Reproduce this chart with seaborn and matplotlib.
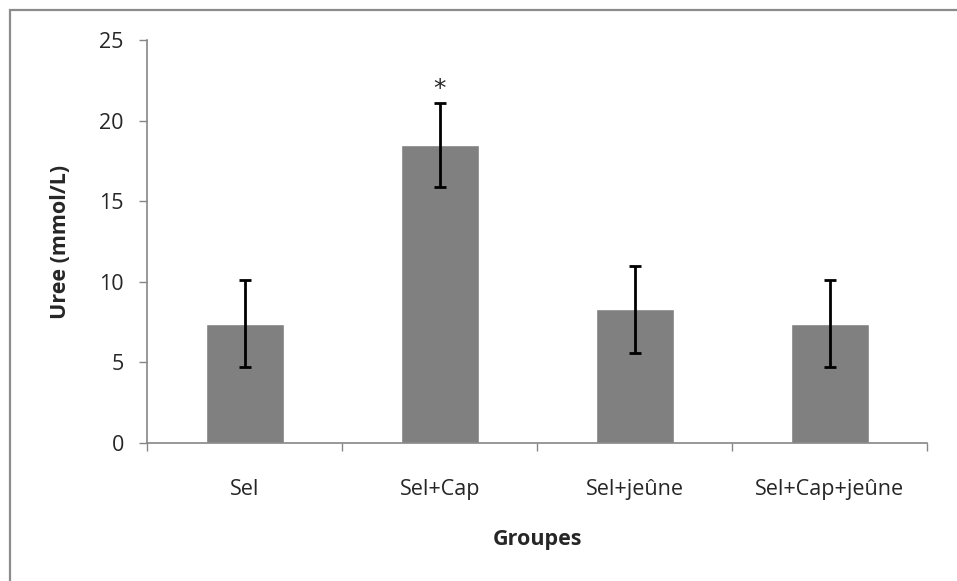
import seaborn as sns
import pandas as pd
import matplotlib.pyplot as plt
from matplotlib.patches import Rectangle
from matplotlib.ticker import FixedLocator

# données
groupes = ['Sel', 'Sel+Cap', 'Sel+jeûne', 'Sel+Cap+jeûne']
uree = [7.4, 18.5, 8.3, 7.4]
erreur = [2.7, 2.6, 2.7, 2.7]
signif = ['', '*', '', '']

df = pd.DataFrame({'Groupes': groupes, 'Uree': uree})

sns.set_style('white')
plt.rcParams['font.family'] = ['Open Sans', 'DejaVu Sans']

fig = plt.figure(figsize=(9.57, 5.81), dpi=100)
ax = fig.add_axes([0.154, 0.2375, 0.815, 0.6935])

sns.barplot(data=df, x='Groupes', y='Uree', color='#808080', saturation=1,
            width=0.4, errorbar=None, ax=ax)
ax.errorbar(range(len(groupes)), uree, yerr=erreur, fmt='none',
            ecolor='black', elinewidth=2, capsize=4.5, capthick=2)
for i, s in enumerate(signif):
    if s:
        ax.text(i, uree[i] + erreur[i] + 0.1, s, ha='center', va='bottom',
                fontsize=18, family='DejaVu Sans')

ax.set_xlim(-0.5, len(groupes) - 0.5)
ax.set_ylim(0, 25)
ax.set_yticks([0, 5, 10, 15, 20, 25])

# graduations style Excel
ax.xaxis.set_minor_locator(FixedLocator([i - 0.5 for i in range(len(groupes) + 1)]))
ax.tick_params(axis='x', which='major', length=0, pad=26, labelsize=15.5)
ax.tick_params(axis='x', which='minor', bottom=True, length=6, width=1, color='#868686')
ax.tick_params(axis='y', left=True, length=6, width=1, color='#868686',
               labelsize=15.5, pad=11)

for side in ['top', 'right']:
    ax.spines[side].set_visible(False)
for side in ['left', 'bottom']:
    ax.spines[side].set_color('#868686')
    ax.spines[side].set_linewidth(1.2)

ax.set_xlabel('Groupes', fontsize=15.5, fontweight='bold', labelpad=21)
ax.set_ylabel('Uree (mmol/L)', fontsize=15.5, fontweight='bold', labelpad=20)

fig.patches.append(Rectangle((0.0104, -0.1), 1.2, 1.0832, transform=fig.transFigure,
                             fill=False, edgecolor='#8c8c8c', linewidth=1.6))

fig.savefig('out.png', dpi=100)
